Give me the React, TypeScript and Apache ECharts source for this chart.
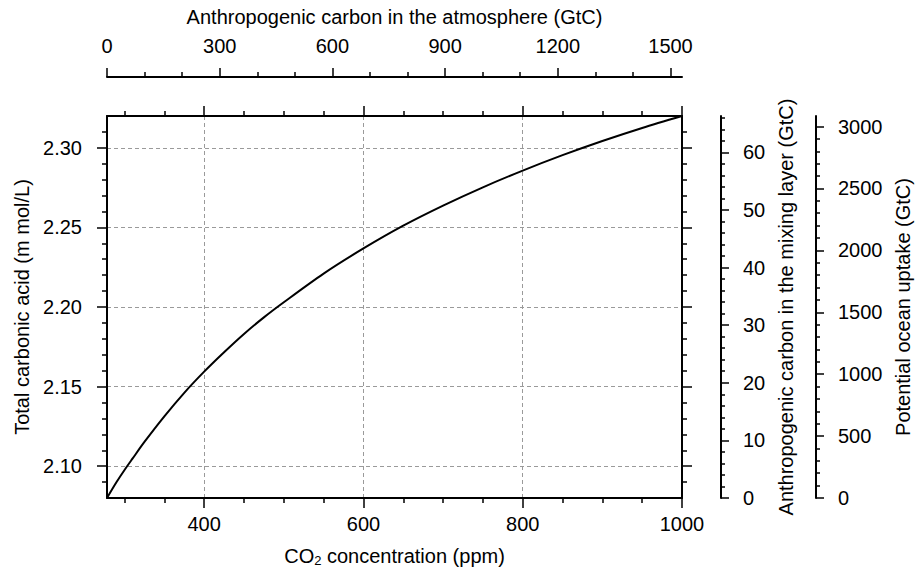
import React, { useEffect, useRef } from "react";
import * as echarts from "echarts";

// CO2 concentration (ppm) and total carbonic acid (m mol/L)
const co2Ppm = [278, 290, 300, 310, 325, 350, 375, 400, 425, 450, 475, 500, 550, 600, 650, 700, 750, 800, 850, 900, 950, 1000];
const carbonicAcid = [2.08, 2.09, 2.0976, 2.1047, 2.1152, 2.1313, 2.1461, 2.1594, 2.1716, 2.1831, 2.1935, 2.203, 2.221, 2.2368, 2.2511, 2.2637, 2.2752, 2.2857, 2.2954, 2.3043, 2.3125, 2.32];

// axis extents
const co2Range = [278, 1000];
const acidRange = [2.08, 2.32];
const atmosphereRange = [0, 1530.6];
const mixingRange = [0, 66.3];
const oceanRange = [0, 3085];

// tick labels
const co2Ticks = [400, 600, 800, 1000];
const acidTicks = [2.1, 2.15, 2.2, 2.25, 2.3];
const atmosphereTicks = [0, 300, 600, 900, 1200, 1500];
const mixingTicks = [0, 10, 20, 30, 40, 50, 60];
const oceanTicks = [0, 500, 1000, 1500, 2000, 2500, 3000];

const FONT = "'Liberation Sans', Arial, Helvetica, sans-serif";
const FS = 20;
const BLACK = "#000";

export default function App() {
  const ref = useRef<HTMLDivElement>(null);

  useEffect(() => {
    if (!ref.current) return;
    const chart = echarts.init(ref.current, null, { renderer: "svg" });

    const text = { fontSize: FS, color: BLACK, fontFamily: FONT };
    const tickStyle = { color: BLACK, width: 1.5 };
    const lineStyle = { color: BLACK, width: 2 };
    const grid = { color: "#9a9a9a", width: 1, type: [4, 3] as any };
    const plain = (v: number) => String(v);

    const option: any = {
      animation: false,
      backgroundColor: "#fff",
      grid: { left: 107, right: 234, top: 116, bottom: 77, outerBoundsMode: "none", containLabel: false },
      xAxis: [
        {
          type: "value", position: "bottom", min: co2Range[0], max: co2Range[1],
          minInterval: 200, maxInterval: 200, splitNumber: 4,
          axisLine: { show: true, onZero: false, lineStyle },
          axisTick: { show: true, length: 10, lineStyle: tickStyle, customValues: co2Ticks },
          minorTick: { show: true, splitNumber: 4, length: 5, lineStyle: tickStyle },
          axisLabel: { ...text, margin: 16, customValues: co2Ticks, formatter: plain },
          splitLine: { show: true, showMaxLine: false, lineStyle: grid },
          name: "CO{sub|2} concentration (ppm)", nameLocation: "middle", nameGap: 47,
          nameTextStyle: { ...text, rich: { sub: { fontSize: 13, fontFamily: FONT, color: BLACK, padding: [9, 0, 0, 0] } } },
        },
        {
          type: "value", position: "top", offset: 0, min: co2Range[0], max: co2Range[1],
          minInterval: 200, maxInterval: 200, splitNumber: 4,
          axisLine: { show: true, onZero: false, lineStyle },
          axisTick: { show: true, length: 10, lineStyle: tickStyle, customValues: co2Ticks },
          minorTick: { show: true, splitNumber: 4, length: 5, lineStyle: tickStyle },
          axisLabel: { show: false },
          splitLine: { show: false },
        },
        {
          type: "value", position: "top", offset: 39, min: atmosphereRange[0], max: atmosphereRange[1],
          interval: 300,
          axisLine: { show: true, onZero: false, lineStyle },
          axisTick: { show: true, length: 9, lineStyle: tickStyle, customValues: atmosphereTicks },
          minorTick: { show: true, splitNumber: 3, length: 5, lineStyle: tickStyle },
          axisLabel: { ...text, margin: 21, customValues: atmosphereTicks, formatter: plain },
          splitLine: { show: false },
          name: "Anthropogenic carbon in the atmosphere (GtC)", nameLocation: "middle", nameGap: 50,
          nameTextStyle: text,
        },
      ],
      yAxis: [
        {
          type: "value", position: "left", min: acidRange[0], max: acidRange[1],
          minInterval: 0.05, maxInterval: 0.05, splitNumber: 5,
          axisLine: { show: true, onZero: false, lineStyle },
          axisTick: { show: true, length: 10, lineStyle: tickStyle, customValues: acidTicks },
          minorTick: { show: true, splitNumber: 5, length: 5, lineStyle: tickStyle },
          axisLabel: { ...text, margin: 25, customValues: acidTicks, formatter: (v: number) => v.toFixed(2) },
          splitLine: { show: true, lineStyle: grid },
          name: "Total carbonic acid (m mol/L)", nameLocation: "middle", nameGap: 74, nameRotate: 90,
          nameTextStyle: text,
        },
        {
          type: "value", position: "right", offset: 0, min: acidRange[0], max: acidRange[1],
          minInterval: 0.05, maxInterval: 0.05, splitNumber: 5,
          axisLine: { show: true, onZero: false, lineStyle },
          axisTick: { show: true, length: 10, lineStyle: tickStyle, customValues: acidTicks },
          minorTick: { show: true, splitNumber: 5, length: 5, lineStyle: tickStyle },
          axisLabel: { show: false },
          splitLine: { show: false },
        },
        {
          type: "value", position: "right", offset: 39, min: mixingRange[0], max: mixingRange[1],
          interval: 10,
          axisLine: { show: true, onZero: false, lineStyle },
          axisTick: { show: true, length: 8, lineStyle: tickStyle, customValues: mixingTicks },
          minorTick: { show: true, splitNumber: 5, length: 4, lineStyle: tickStyle },
          axisLabel: { ...text, margin: 22, customValues: mixingTicks, formatter: plain },
          splitLine: { show: false },
          name: "Anthropogenic carbon in the mixing layer (GtC)", nameLocation: "middle", nameGap: 55, nameRotate: 90,
          nameTextStyle: text,
        },
        {
          type: "value", position: "right", offset: 134, min: oceanRange[0], max: oceanRange[1],
          interval: 500,
          axisLine: { show: true, onZero: false, lineStyle },
          axisTick: { show: true, length: 8, lineStyle: tickStyle, customValues: oceanTicks },
          minorTick: { show: true, splitNumber: 5, length: 4, lineStyle: tickStyle },
          axisLabel: { ...text, margin: 22, customValues: oceanTicks, formatter: plain },
          splitLine: { show: false },
          name: "Potential ocean uptake (GtC)", nameLocation: "middle", nameGap: 76, nameRotate: 90,
          nameTextStyle: text,
        },
      ],
      series: [
        {
          type: "line",
          xAxisIndex: 0,
          yAxisIndex: 0,
          data: co2Ppm.map((c, i) => [c, carbonicAcid[i]]),
          smooth: 0.3,
          showSymbol: false,
          symbol: "none",
          lineStyle: { color: BLACK, width: 2 },
          z: 5,
        },
      ],
    };

    chart.setOption(option);
    return () => chart.dispose();
  }, []);

  return (
    <div
      ref={ref}
      style={{ position: "absolute", left: 0, top: 0, width: 916, height: 575, background: "#fff" }}
    />
  );
}
